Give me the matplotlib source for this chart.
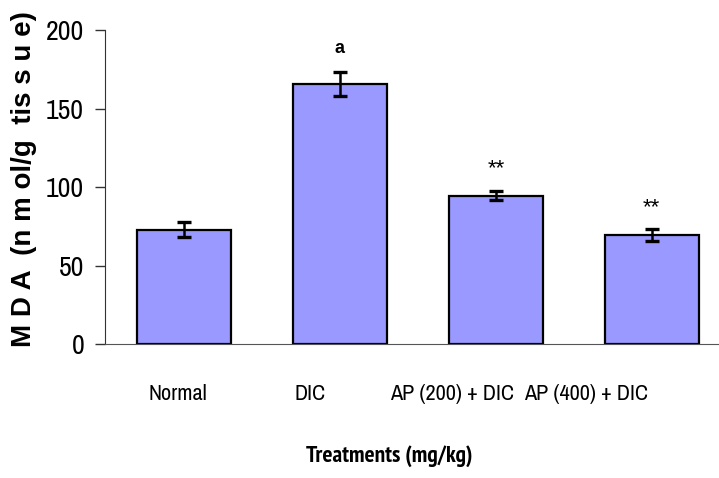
import matplotlib.pyplot as plt
from matplotlib import font_manager
import numpy as np

# MDA levels per treatment group (mean +/- SE)
groups = ['Normal', 'DIC', 'AP (200) + DIC', 'AP (400) + DIC']
mda_mean = [73, 165.5, 94.5, 69.5]
mda_err = [4.8, 7.6, 3.0, 3.8]
marks = ['', 'a', '**', '**']
mark_y = [None, 188, 112, 87]

# look for the narrowest sans face available (original uses Arial Narrow)
rank = {'ultra-condensed': 0, 'extra-condensed': 1, 'condensed': 2, 'semi-condensed': 3}


def pick_narrow(bold):
    cands = []
    for f in font_manager.fontManager.ttflist:
        if f.style != 'normal' or 'Mono' in f.name or 'Serif' in f.name:
            continue
        w = f.weight if isinstance(f.weight, int) else 400
        if bold and w < 600:
            continue
        if 'Narrow' in f.name:
            cands.append((-1, f))
        elif f.stretch in rank:
            cands.append((rank[f.stretch], f))
    cands.sort(key=lambda t: t[0])
    if cands:
        return cands[0][1].name, cands[0][1].stretch
    return 'Liberation Sans', 'normal'


nfam, nstretch = pick_narrow(False)
bfam, bstretch = pick_narrow(True)

fig = plt.figure(figsize=(7.19, 4.78), dpi=100)
ax = fig.add_axes([0.146, 0.280, 0.869, 0.657])

x = np.arange(len(groups))
ax.bar(x, mda_mean, width=0.6, color='#9999ff', edgecolor='black', linewidth=1.6)
ax.errorbar(x, mda_mean, yerr=mda_err, fmt='none', ecolor='black',
            elinewidth=1.8, capsize=5, capthick=2.4)

for xi, m, my in zip(x, marks, mark_y):
    if m:
        ax.text(xi, my, m, ha='center', va='center', fontsize=13 if m == 'a' else 16,
                fontweight='bold' if m == 'a' else 'normal', family='Liberation Sans')

ax.set_xlim(-0.506, 3.5)
ax.set_ylim(0, 200)
ax.set_yticks([0, 50, 100, 150, 200])
ax.set_yticklabels(['0', '50', '100', '150', '200'], family=nfam,
                   fontstretch=nstretch, fontsize=20)
ax.tick_params(axis='y', direction='out', length=7, width=1, color='#333333', pad=8)

# category labels sit a little left of the bars, as in the original
ax.set_xticks([])
label_shift = [-0.04, -0.19, -0.28, -0.42]
for xi, g, sh in zip(x, groups, label_shift):
    ax.text(xi + sh, -32, g, ha='center', va='center', family=nfam,
            fontstretch=nstretch, fontsize=16, clip_on=False)

for s in ['top', 'right']:
    ax.spines[s].set_visible(False)
ax.spines['left'].set_color('#333333')
ax.spines['bottom'].set_color('#555555')

fig.text(0.034, 0.626, 'M D A  (n m ol/g  tis s u e)', rotation=90, ha='center',
         va='center', fontsize=20, fontweight='bold', family='Liberation Sans')
fig.text(0.541, 0.046, 'Treatments (mg/kg)', ha='center', va='center',
         fontsize=17, fontweight='bold', family=bfam, fontstretch=bstretch)

fig.savefig('out.png', dpi=100)
